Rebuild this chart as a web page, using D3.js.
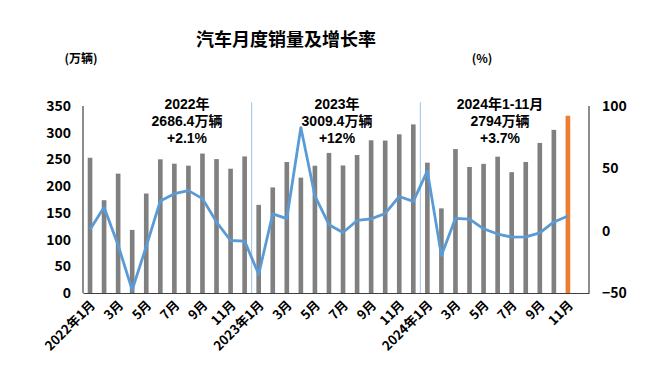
<!DOCTYPE html>
<html>
<head>
<meta charset="utf-8">
<script src="https://cdn.jsdelivr.net/npm/d3@7"></script>
<style>
  body { margin: 0; background: #fff; }
  text { font-family: "Noto Sans CJK SC", "Noto Sans", sans-serif; font-weight: bold; fill: #000; }
  text.note { font-family: "Liberation Sans", "Noto Sans CJK SC", sans-serif; }
</style>
</head>
<body>
<svg id="chart" width="648" height="374"></svg>
<script>
const months = [
  "2022-01","2022-02","2022-03","2022-04","2022-05","2022-06","2022-07","2022-08","2022-09","2022-10","2022-11","2022-12",
  "2023-01","2023-02","2023-03","2023-04","2023-05","2023-06","2023-07","2023-08","2023-09","2023-10","2023-11","2023-12",
  "2024-01","2024-02","2024-03","2024-04","2024-05","2024-06","2024-07","2024-08","2024-09","2024-10","2024-11","2024-12"
];
// 万辆
const sales = [
  253.1, 173.7, 223.4, 118.1, 186.2, 250.2, 242.0, 238.3, 261.0, 250.6, 232.6, 255.6,
  164.9, 197.6, 245.1, 215.9, 238.2, 262.2, 238.7, 258.2, 285.8, 285.3, 297.0, 315.6,
  243.9, 158.4, 269.4, 235.9, 241.7, 255.2, 226.2, 245.3, 280.9, 305.3, 331.7
];
// %
const growth = [
  0.9, 18.7, -11.7, -47.6, -12.6, 23.8, 29.7, 32.1, 25.7, 6.9, -7.9, -8.4,
  -35.0, 13.5, 9.7, 82.7, 27.9, 4.8, -1.5, 8.2, 9.5, 13.8, 27.4, 23.5,
  47.9, -19.9, 9.9, 9.3, 1.5, -2.7, -5.2, -5.0, -1.7, 7.0, 11.7
];
const tickLabels = {
  "2022-01":"2022年1月","2022-03":"3月","2022-05":"5月","2022-07":"7月","2022-09":"9月","2022-11":"11月",
  "2023-01":"2023年1月","2023-03":"3月","2023-05":"5月","2023-07":"7月","2023-09":"9月","2023-11":"11月",
  "2024-01":"2024年1月","2024-03":"3月","2024-05":"5月","2024-07":"7月","2024-09":"9月","2024-11":"11月"
};
const noteLines = [
  ["2022年", "2686.4万辆", "+2.1%"],
  ["2023年", "3009.4万辆", "+12%"],
  ["2024年1-11月", "2794万辆", "+3.7%"]
];
const yearBreaks = ["2023-01", "2024-01"];

const svg = d3.select("#chart");
const margin = { left: 83, right: 59, top: 106, bottom: 81 };
const W = 648, H = 374;

const x = d3.scaleBand().domain(months).range([margin.left, W - margin.right]).paddingInner(0.67).paddingOuter(0.335);
const y = d3.scaleLinear().domain([0, 350]).range([H - margin.bottom, margin.top]);
const y2 = d3.scaleLinear().domain([-50, 100]).range([H - margin.bottom, margin.top]);
const step = x.step();

// title
svg.append("text").attr("x", 286).attr("y", 46).attr("text-anchor", "middle")
  .style("font-size", "18px").text("汽车月度销量及增长率");
svg.append("text").attr("x", 81).attr("y", 63).attr("text-anchor", "middle")
  .style("font-size", "12px").text("(万辆)");
svg.append("text").attr("x", 482).attr("y", 63).attr("text-anchor", "middle")
  .style("font-size", "12px").text("(%)");

// year separators
yearBreaks.forEach(m => {
  const sx = x(m) + x.bandwidth() / 2 - step / 2;
  svg.append("line").attr("x1", sx).attr("x2", sx)
    .attr("y1", y(357)).attr("y2", y(0))
    .attr("stroke", "#9dc3e6").attr("stroke-width", 1);
});

// bars
svg.append("g").selectAll("rect").data(sales).join("rect")
  .attr("x", (d, i) => x(months[i]))
  .attr("y", d => y(d))
  .attr("width", x.bandwidth())
  .attr("height", d => y(0) - y(d))
  .attr("fill", (d, i) => i === sales.length - 1 ? "#ed7d31" : "#808080");

// growth line
const line = d3.line()
  .x((d, i) => x(months[i]) + x.bandwidth() / 2)
  .y(d => y2(d));
svg.append("path").datum(growth)
  .attr("fill", "none").attr("stroke", "#5b9bd5").attr("stroke-width", 2.8)
  .attr("stroke-linejoin", "round").attr("d", line);

// axes
const gl = svg.append("g").attr("transform", `translate(${margin.left},0)`)
  .call(d3.axisLeft(y).tickValues(d3.range(0, 351, 50)).tickSize(0).tickPadding(12));
const gr = svg.append("g").attr("transform", `translate(${W - margin.right},0)`)
  .call(d3.axisRight(y2).tickValues([-50, 0, 50, 100]).tickSize(0).tickPadding(13));
const gb = svg.append("g").attr("transform", `translate(0,${H - margin.bottom})`)
  .call(d3.axisBottom(x).tickSize(0).tickFormat(() => ""));
[gl, gr, gb].forEach(g => {
  g.select(".domain").attr("stroke", "#404040").attr("stroke-width", 1.2);
  g.selectAll("text").style("font-size", "14px").style("font-family", null).style("font-weight", null).attr("fill", "#000");
});
gl.select(".domain").attr("d", `M0,${y(350)}V${y(0)}`);
gr.select(".domain").attr("d", `M0,${y2(100)}V${y2(-50)}`);

// x labels
svg.append("g").selectAll("text").data(Object.keys(tickLabels)).join("text")
  .attr("transform", m => `translate(${x(m) + x.bandwidth() / 2 + 6},${H - margin.bottom + 13}) rotate(-45)`)
  .attr("text-anchor", "end")
  .style("font-size", "13px")
  .text(m => tickLabels[m]);

// year annotations
const noteX = [187, 337, 500];
noteLines.forEach((lines, k) => {
  lines.forEach((s, i) => {
    svg.append("text").attr("class", "note").attr("x", noteX[k]).attr("y", 109 + i * 17)
      .attr("text-anchor", "middle").style("font-size", "14px").text(s);
  });
});
</script>
</body>
</html>
